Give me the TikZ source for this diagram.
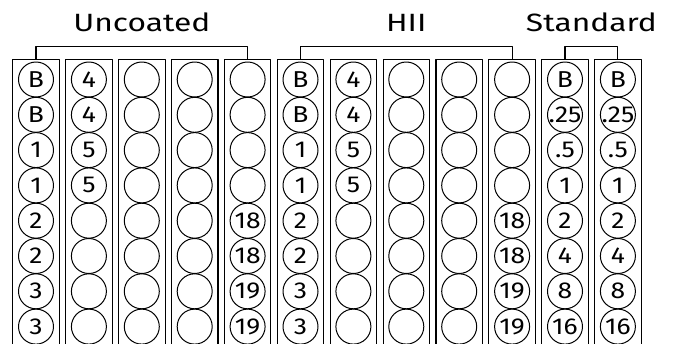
\documentclass[tikz,border=0pt]{standalone}
\usepackage{fontspec}
\usepackage{graphicx}
\setmainfont{Fira Sans}
\usetikzlibrary{calc}
\newcommand{\widetxt}[1]{\scalebox{1.27}[1]{#1}}
\newcommand{\welltxt}[1]{\makebox[0pt]{\scalebox{1.15}[1]{#1}}}
\tikzset{
  lane/.style={draw, line width=1.1pt, minimum width=46.5pt, minimum height=320pt, anchor=north, inner sep=0pt},
  well/.style={circle, draw, line width=1pt, minimum size=35pt, inner sep=0pt, font=\fontsize{23}{23}\selectfont},
  grouplbl/.style={font=\fontsize{25}{25}\selectfont, anchor=base},
  bracket/.style={line width=1.1pt},
  every picture/.style={line cap=round, line join=round}
}

\begin{document}
\begin{tikzpicture}[x=1pt,y=-1pt]
  \useasboundingbox (0,0) rectangle (675,343);
  \clip (0,0) rectangle (675,343);

  % lanes with their wells
  \foreach \lbls [count=\c] in {
      {B,B,1,1,2,2,3,3},{4,4,5,5,{},{},{},{}},{{},{},{},{},{},{},{},{}},
      {{},{},{},{},{},{},{},{}},{{},{},{},{},18,18,19,19},
      {B,B,1,1,2,2,3,3},{4,4,5,5,{},{},{},{}},{{},{},{},{},{},{},{},{}},
      {{},{},{},{},{},{},{},{}},{{},{},{},{},18,18,19,19},
      {B,.25,.5,1,2,4,8,16},{B,.25,.5,1,2,4,8,16}}{
    \node[lane] (col\c) at ({36+(\c-1)*52.9},59) {};
    \foreach \t [count=\r] in \lbls
      \node[well] (w\c-\r) at ({36+(\c-1)*52.9},{79.5+(\r-1)*35.3}) {\welltxt{\t}};
  }

  % group brackets
  \draw[bracket] (col1.north) -- ++(0,-12.3) -| (col5.north);
  \draw[bracket] (col6.north) -- ++(0,-12.3) -| (col10.north);
  \draw[bracket] (col11.north) -- ++(0,-12.3) -| (col12.north);

  \node[grouplbl] (uncoated) at ($(col1.north)!0.5!(col5.north)+(0,-27.3)$) {\widetxt{Uncoated}};
  \node[grouplbl] (hii) at ($(col6.north)!0.5!(col10.north)+(0,-27.3)$) {\widetxt{HII}};
  \node[grouplbl] (standard) at ($(col11.north)!0.5!(col12.north)+(0,-27.3)$) {\widetxt{Standard}};
\end{tikzpicture}
\end{document}
